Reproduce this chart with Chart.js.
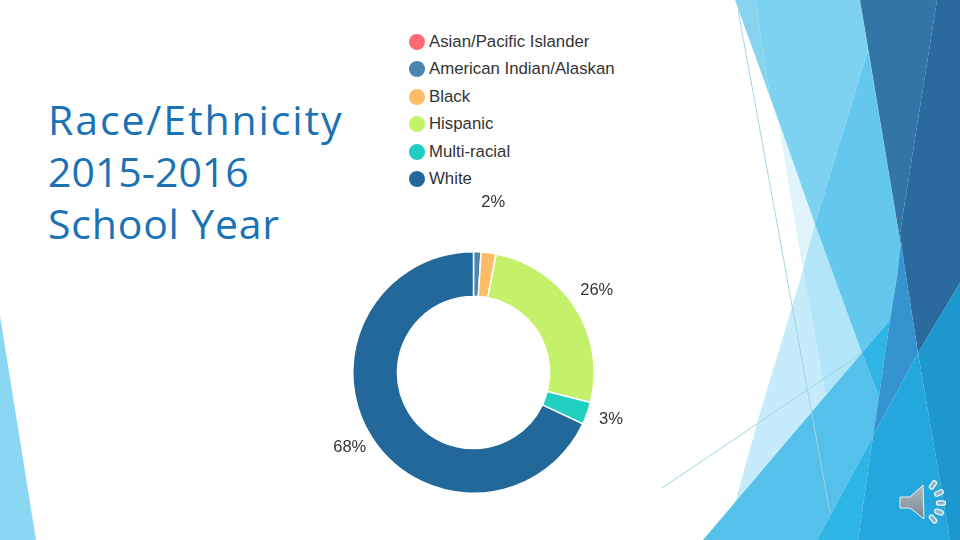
<!DOCTYPE html>
<html>
<head>
<meta charset="utf-8">
<title>Race/Ethnicity 2015-2016 School Year</title>
<script src="https://cdn.jsdelivr.net/npm/chart.js@4"></script>
<style>
    html, body { margin: 0; padding: 0; background: #fff; }
    #slide { position: relative; width: 960px; height: 540px; overflow: hidden; background: #fff; }
    #facets { position: absolute; left: 0; top: 0; }
    #title {
        position: absolute; left: 48px; top: 93px; margin: 0;
        font: normal 41px/52px "Open Sans", sans-serif;
        color: #1b72b5;
    }
    #title span { display: block; white-space: nowrap; }
    #chartWrap { position: absolute; left: 310px; top: 190px; width: 327px; height: 350px; }
    #legend { position: absolute; left: 409px; top: 28px; margin: 0; padding: 0; list-style: none; }
    #legend li {
        display: flex; align-items: center; height: 27.5px;
        font: 16.8px "Liberation Sans", Arial, sans-serif; color: #333;
    }
    #legend i { display: block; width: 16px; height: 16px; border-radius: 50%; margin-right: 4px; }
</style>
</head>
<body>
<div id="slide">
    <svg id="facets" width="960" height="540" viewBox="0 0 960 540">
        <defs>
            <linearGradient id="speaker" x1="0" y1="0" x2="0" y2="1">
                <stop offset="0" stop-color="#b4bcc2"/>
                <stop offset="1" stop-color="#7c868e"/>
            </linearGradient>
        </defs>
        <!-- left corner -->
        <polygon points="0,316 36,540 0,540" fill="#8ad6f3"/>
        <!-- pale facets -->
        <polygon points="779,125 817,227 803,270" fill="#e0f4fc"/>
        <polygon points="803,270 792,307 760,413 735,503 826,397" fill="#c6ebfa"/>
        <polygon points="815,224 832,270 862,353 826,397 803,270" fill="#b3e5f8"/>
        <!-- top light facets -->
        <polygon points="735,0 755,0 770,97" fill="#86d3f0"/>
        <polygon points="755,0 860,0 868,50 815,224 770,97" fill="#7ed2f1"/>
        <polygon points="868,50 905,270 898,270 890,320 862,353 815,224" fill="#64c8ee"/>
        <!-- dark facets -->
        <polygon points="860,0 937,0 900,233 905,270" fill="#3276a8"/>
        <polygon points="937,0 960,0 960,283 918,353 905,270 900,233" fill="#2a6a9f"/>
        <!-- bottom facets -->
        <polygon points="703,540 862,353 879,396 873,436 817,540" fill="#55c1ea"/>
        <polygon points="862,353 890,320 879,396" fill="#2fb4e6"/>
        <polygon points="901,245 905,270 918,353 873,436 879,396 890,320 898,270" fill="#3594d0"/>
        <polygon points="817,540 873,436 858,540" fill="#2db5e6"/>
        <polygon points="918,353 950,540 858,540 873,436" fill="#24a7dd"/>
        <polygon points="960,283 960,540 950,540 918,353" fill="#1c98ce"/>
        <!-- thin lines -->
        <line x1="738" y1="10" x2="830" y2="513" stroke="#9fd6e3" stroke-width="1"/>
        <line x1="662" y1="488" x2="862" y2="353" stroke="#9fd6e3" stroke-width="1"/>
        <!-- speaker icon -->
        <polygon points="900,497 910,497 923,485 924,519 910,508 900,508" fill="url(#speaker)" stroke="#e4f2f7" stroke-width="1"/>
        <g fill="#8fb6c8" stroke="#eaf5f9" stroke-width="1.3">
            <rect x="-4.5" y="-2.2" width="9" height="4.4" rx="2.2" transform="translate(933,485) rotate(-55)"/>
            <rect x="-4.5" y="-2.2" width="9" height="4.4" rx="2.2" transform="translate(939,493) rotate(-25)"/>
            <rect x="-4.5" y="-2.2" width="9" height="4.4" rx="2.2" transform="translate(941,503)"/>
            <rect x="-4.5" y="-2.2" width="9" height="4.4" rx="2.2" transform="translate(939,512) rotate(20)"/>
            <rect x="-4.5" y="-2.2" width="9" height="4.4" rx="2.2" transform="translate(933,519) rotate(50)"/>
        </g>
    </svg>
    <h1 id="title">
        <span style="letter-spacing:1.9px">Race/Ethnicity</span>
        <span>2015-2016</span>
        <span style="letter-spacing:.8px">School Year</span>
    </h1>
    <ul id="legend"></ul>
    <div id="chartWrap"><canvas id="raceChart" width="327" height="350"></canvas></div>
</div>
<script>
// Data
const categories = ['Asian/Pacific Islander', 'American Indian/Alaskan', 'Black', 'Hispanic', 'Multi-racial', 'White'];
const percentages = [0, 1, 2, 26, 3, 68];
const sliceColors = ['#fd6b75', '#4a86b0', '#fdbc68', '#c5f06a', '#20cfc0', '#23689a'];

// Percent labels outside the ring, small slices get pushed further out
const outsideLabels = {
    id: 'outsideLabels',
    afterDatasetsDraw(chart) {
        const ctx = chart.ctx;
        ctx.save();
        ctx.font = "16.5px 'Liberation Sans', Arial, sans-serif";
        ctx.fillStyle = '#333';
        ctx.textAlign = 'center';
        ctx.textBaseline = 'middle';
        chart.getDatasetMeta(0).data.forEach((arc, i) => {
            const value = percentages[i];
            if (value < 2) return;
            let gap = 27;
            if (value < 3) gap = 48;
            if (value > 50) gap = 24;
            const angle = (arc.startAngle + arc.endAngle) / 2;
            const r = arc.outerRadius + gap;
            ctx.fillText(value + '%', arc.x + Math.cos(angle) * r - 1.5, arc.y + Math.sin(angle) * r - 3);
        });
        ctx.restore();
    }
};

// Legend is plain html so it can stack up above the ring
const legendEl = document.getElementById('legend');
categories.forEach((name, i) => {
    const li = document.createElement('li');
    const dot = document.createElement('i');
    dot.style.background = sliceColors[i];
    li.appendChild(dot);
    li.appendChild(document.createTextNode(name));
    legendEl.appendChild(li);
});

new Chart(document.getElementById('raceChart').getContext('2d'), {
    type: 'doughnut',
    data: {
        labels: categories,
        datasets: [{
            data: percentages,
            backgroundColor: sliceColors,
            borderColor: '#fff',
            borderWidth: 1.5
        }]
    },
    options: {
        responsive: false,
        animation: false,
        cutout: '63%',
        layout: { padding: { left: 42, right: 42, top: 61, bottom: 46 } },
        plugins: {
            legend: { display: false },
            tooltip: { enabled: false }
        }
    },
    plugins: [outsideLabels]
});
</script>
</body>
</html>
